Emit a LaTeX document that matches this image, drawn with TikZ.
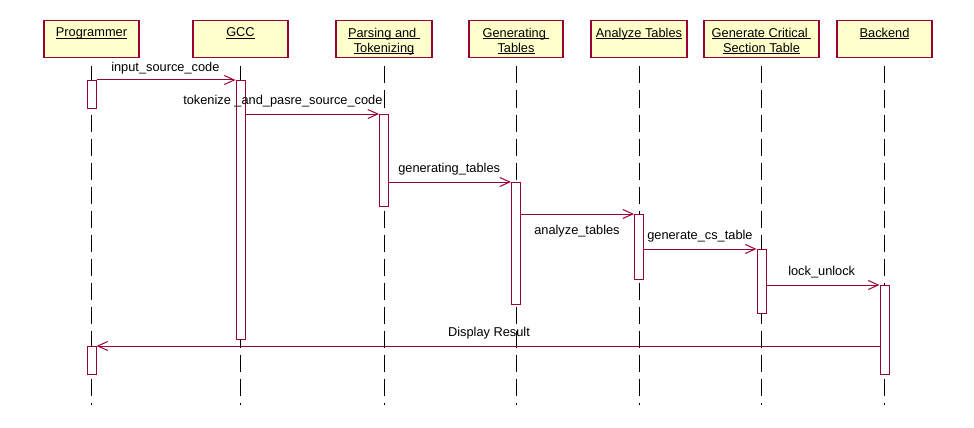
\documentclass[tikz,border=0pt]{standalone}
\usepackage{fontspec}
\setmainfont{Liberation Sans}
\usetikzlibrary{arrows.meta,positioning}
\newlength{\du}
\setlength{\du}{0.75pt}
\definecolor{umlline}{rgb}{0.600000, 0.000000, 0.200000}
\definecolor{umlfill}{rgb}{1.000000, 1.000000, 0.800000}
\newcommand{\uln}[1]{\hbox{\setbox0\hbox{#1}\rlap{\vrule width\wd0 height -0.9pt depth 1.65pt}\box0}}
\tikzset{
  objbox/.style={draw=umlline, fill=umlfill, line width=1.5\du, inner sep=0pt, minimum height=37\du, anchor=north},
  objname/.style={align=center, inner sep=0pt, anchor=north, font=\fontsize{9.6pt}{11.25pt}\selectfont},
  lifeline/.style={draw=black, line width=1\du, dash pattern=on 17\du off 7\du},
  actbox/.style={draw=umlline, fill=white, line width=1\du, inner sep=0pt, minimum width=9\du, anchor=north},
  msg/.style={draw=umlline, line width=1\du, -{Straight Barb[length=7.5pt,width=6.75pt]}},
  msglabel/.style={inner sep=0pt, font=\fontsize{9.6pt}{11.25pt}\selectfont}
}
\begin{document}
\begin{tikzpicture}[x=1\du, y=-1\du]
\useasboundingbox (0,0) rectangle (974,428);
% objects
\node[objbox, minimum width=95\du] (prog) at (91.5,20) {};
\node[objname, below=7.5\du of prog.north] (progname) {\uln{Programmer}};
\node[objbox, minimum width=95\du] (gcc) at (240.5,20) {};
\node[objname, below=7.5\du of gcc.north] (gccname) {\uln{GCC}};
\node[objbox, minimum width=96\du] (parse) at (384,20) {};
\node[objname, below=7.5\du of parse.north] (parsename) {\uln{Parsing and\ }\\\uln{Tokenizing}};
\node[objbox, minimum width=94\du] (gentab) at (516,20) {};
\node[objname, below=7.5\du of gentab.north] (gentabname) {\uln{Generating\ }\\\uln{Tables}};
\node[objbox, minimum width=96\du] (anatab) at (639,20) {};
\node[objname, below=7.5\du of anatab.north] (anatabname) {\uln{Analyze Tables}};
\node[objbox, minimum width=115\du] (gencs) at (761.5,20) {};
\node[objname, below=7.5\du of gencs.north] (gencsname) {\uln{Generate Critical\ }\\\uln{Section Table}};
\node[objbox, minimum width=95\du] (backend) at (884.5,20) {};
\node[objname, below=7.5\du of backend.north] (backendname) {\uln{Backend}};
% lifelines
\foreach \obj in {prog,gcc,parse,gentab,anatab,gencs,backend}
  \draw[lifeline] (\obj.south) ++(0,8) -- ++(0,338);
% activations
\node[actbox, minimum height=28\du] (prog1) at (91.5,80) {};
\node[actbox, minimum height=259\du] (gcc1) at (240.5,80) {};
\node[actbox, minimum height=92\du] (parse1) at (384,114) {};
\node[actbox, minimum height=122\du] (gentab1) at (516,182) {};
\node[actbox, minimum height=65\du] (anatab1) at (639,214) {};
\node[actbox, minimum height=64\du] (gencs1) at (761.5,249) {};
\node[actbox, minimum height=89\du] (backend1) at (884.5,285) {};
\node[actbox, minimum height=28\du] (prog2) at (91.5,346) {};
% messages
\draw[msg] (prog1.north east) -- (gcc1.north west);
\draw[msg] (gcc1.east |- parse1.north) -- (parse1.north west);
\draw[msg] (parse1.east |- gentab1.north) -- (gentab1.north west);
\draw[msg] (gentab1.east |- anatab1.north) -- (anatab1.north west);
\draw[msg] (anatab1.east |- gencs1.north) -- (gencs1.north west);
\draw[msg] (gencs1.east |- backend1.north) -- (backend1.north west);
\draw[msg] (backend1.west |- prog2.north) -- (prog2.north east);
% message labels
\node[msglabel, anchor=base west] (m1) at (111,71) {input\_source\_code};
\node[msglabel, anchor=base west] (m2) at (183,104) {tokenize \_and\_pasre\_source\_code};
\node[msglabel, anchor=base west] (m3) at (398,172) {generating\_tables};
\node[msglabel, anchor=base west] (m4) at (534,234) {analyze\_tables};
\node[msglabel, anchor=base west] (m5) at (647,239) {generate\_cs\_table};
\node[msglabel, anchor=base west] (m6) at (788,275) {lock\_unlock};
\node[msglabel, anchor=base] (m7) at (489,336) {Display Result};
\end{tikzpicture}
\end{document}
